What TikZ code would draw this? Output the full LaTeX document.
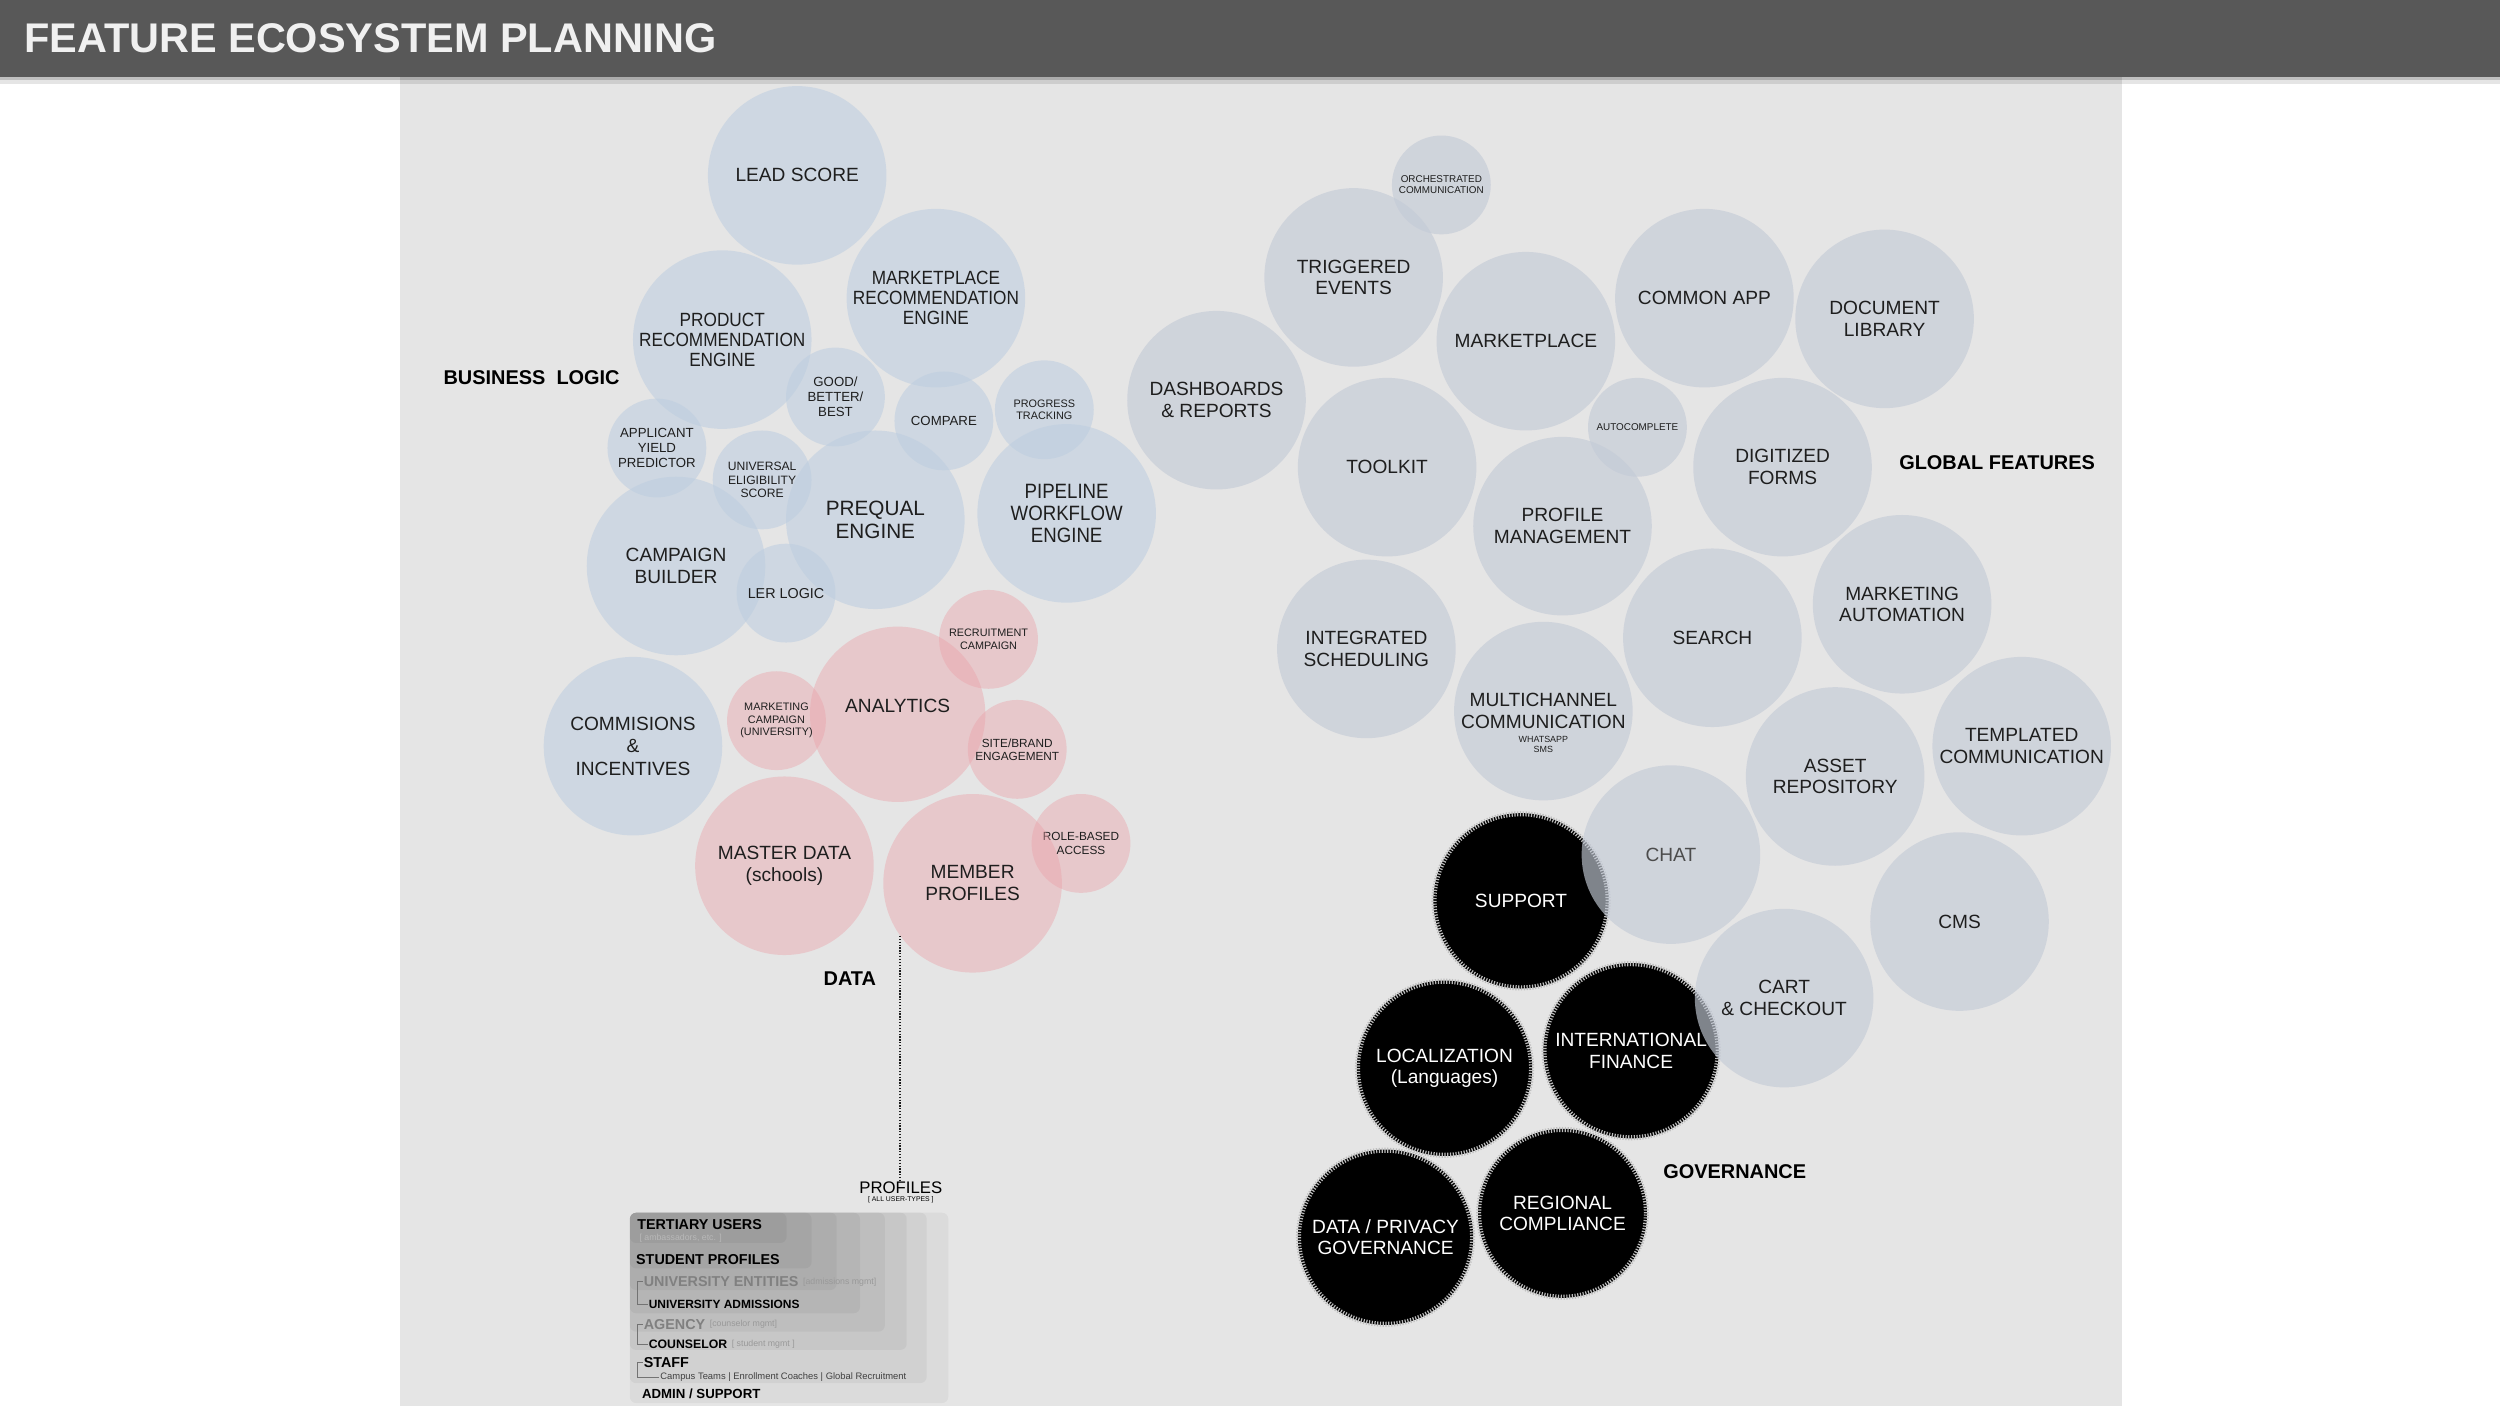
\documentclass[tikz,border=0pt]{standalone}
\usepackage{fontspec}
\setmainfont{Liberation Sans}
\newfontfamily\narrowfont[FakeStretch=0.9]{Liberation Sans}
\usetikzlibrary{positioning}

\definecolor{barGrey}{RGB}{88,88,88}
\definecolor{panelGrey}{RGB}{229,229,229}
\definecolor{logicBlue}{RGB}{188,205,224}
\definecolor{featGrey}{RGB}{196,203,215}
\definecolor{dataRed}{RGB}{235,160,168}
\definecolor{tickGrey}{RGB}{190,190,190}
\definecolor{inkGrey}{RGB}{30,30,30}

\tikzset{
  bubble/.style={circle, inner sep=0pt, align=center, text=inkGrey, text opacity=1},
  bigtxt/.style={minimum size=112pt, font=\fontsize{12}{13.6}\selectfont},
  smalltxt/.style={minimum size=62pt, font=\fontsize{8.3}{9.4}\selectfont},
  tinytxt/.style={minimum size=62pt, font=\fontsize{6.8}{7.8}\selectfont},
  logic/.style={bubble, fill=logicBlue, fill opacity=0.55},
  feature/.style={bubble, fill=featGrey, fill opacity=0.65},
  datum/.style={bubble, fill=dataRed, fill opacity=0.42},
  govern/.style={bubble, fill=black, text=white, minimum size=110pt,
    font=\fontsize{12}{13.6}\selectfont},
  gear/.style={tickGrey, line width=3.2pt, dash pattern=on 0.75pt off 1pt},
  header/.style={font=\bfseries\fontsize{12.5}{12.5}\selectfont, inner sep=0pt, anchor=west},
  usertype/.style={font=\bfseries\fontsize{9}{9}\selectfont, inner sep=0.5pt, anchor=west},
  usernote/.style={font=\fontsize{5.5}{5.5}\selectfont, text=black!40, inner sep=0.5pt}
}

\begin{document}
\begin{tikzpicture}[x=1pt, y=-1pt]
    \useasboundingbox (0,0) rectangle (1568,882);

    % title bar and panel
    \fill[white] (0,0) rectangle (1568,882);
    \fill[panelGrey] (251,48) rectangle (1331,882);
    \fill[black, opacity=0.25] (0,48) rectangle (1568,50);
    \fill[black, opacity=0.1] (0,50) rectangle (1568,53);
    \fill[barGrey] (0,0) rectangle (1568,48);
    \node[anchor=west, inner sep=0pt, text=white!94!black, font=\bfseries\fontsize{26}{26}\selectfont] (title) at (15,24) {FEATURE ECOSYSTEM PLANNING};

    % governance
    \node[govern] (support) at (954,565) {SUPPORT};
    \node[govern] (local) at (906,670) {LOCALIZATION\\(Languages)};
    \node[govern] (intfin) at (1023,659) {INTERNATIONAL\\FINANCE};
    \node[govern] (privacy) at (869,776) {DATA / PRIVACY\\GOVERNANCE};
    \node[govern, minimum size=106pt] (regional) at (980,761) {REGIONAL\\COMPLIANCE};
    \foreach \n/\r in {support/54.6, local/54.6, intfin/54.6, privacy/54.6, regional/52.6}
        \draw[gear] (\n.center) circle (\r pt);

    % business logic
    \node[logic, bigtxt] (lead) at (500,110) {LEAD SCORE};
    \node[logic, bigtxt, font=\narrowfont\fontsize{12}{12.6}\selectfont] (mktrec) at (587,187) {MARKETPLACE\\RECOMMENDATION\\ENGINE};
    \node[logic, bigtxt, font=\narrowfont\fontsize{12}{12.6}\selectfont] (prodrec) at (453,213) {PRODUCT\\RECOMMENDATION\\ENGINE};
    \node[logic, smalltxt] (gbb) at (524,249) {GOOD/\\BETTER/\\BEST};
    \node[logic, smalltxt] (compare) at (592,264) {COMPARE};
    \node[logic, tinytxt] (progress) at (655,257) {PROGRESS\\TRACKING};
    \node[logic, smalltxt] (yield) at (412,281) {APPLICANT\\YIELD\\PREDICTOR};
    \node[logic, tinytxt, font=\fontsize{7.6}{8.6}\selectfont] (elig) at (478,301) {UNIVERSAL\\ELIGIBILITY\\SCORE};
    \node[logic, bigtxt, font=\fontsize{13}{14}\selectfont] (prequal) at (549,326) {PREQUAL\\ENGINE};
    \node[logic, bigtxt, font=\narrowfont\fontsize{13}{14}\selectfont] (pipeline) at (669,322) {PIPELINE\\WORKFLOW\\ENGINE};
    \node[logic, bigtxt] (campaign) at (424,355) {CAMPAIGN\\BUILDER};
    \node[logic, smalltxt, font=\fontsize{9}{9}\selectfont] (ler) at (493,372) {LER LOGIC};
    \node[logic, bigtxt, font=\fontsize{12}{14}\selectfont] (commis) at (397,468) {COMMISIONS\\\&\\INCENTIVES};

    % data
    \node[datum, tinytxt] (recruit) at (620,401) {RECRUITMENT\\CAMPAIGN};
    \node[datum, bigtxt, minimum size=110pt, text depth=10pt] (analytics) at (563,448) {ANALYTICS};
    \node[datum, tinytxt] (mktcamp) at (487,452) {MARKETING\\CAMPAIGN\\(UNIVERSITY)};
    \node[datum, tinytxt, font=\fontsize{7.4}{8.2}\selectfont] (site) at (638,470) {SITE/BRAND\\ENGAGEMENT};
    \node[datum, tinytxt, font=\fontsize{7.4}{8.2}\selectfont] (role) at (678,529) {ROLE-BASED\\ACCESS};
    \node[datum, bigtxt] (master) at (492,543) {MASTER DATA\\(schools)};
    \node[datum, bigtxt] (member) at (610,554) {MEMBER\\PROFILES};

    % global features
    \node[feature, tinytxt, font=\fontsize{6.2}{7}\selectfont] (orch) at (904,116) {ORCHESTRATED\\COMMUNICATION};
    \node[feature, bigtxt] (trig) at (849,174) {TRIGGERED\\EVENTS};
    \node[feature, bigtxt] (mkt) at (957,214) {MARKETPLACE};
    \node[feature, bigtxt] (common) at (1069,187) {COMMON APP};
    \node[feature, bigtxt] (doclib) at (1182,200) {DOCUMENT\\LIBRARY};
    \node[feature, bigtxt] (dash) at (763,251) {DASHBOARDS\\\& REPORTS};
    \node[feature, bigtxt] (toolkit) at (870,293) {TOOLKIT};
    \node[feature, tinytxt, font=\fontsize{6.2}{7}\selectfont] (auto) at (1027,268) {AUTOCOMPLETE};
    \node[feature, bigtxt] (digit) at (1118,293) {DIGITIZED\\FORMS};
    \node[feature, bigtxt] (profman) at (980,330) {PROFILE\\MANAGEMENT};
    \node[feature, bigtxt] (integ) at (857,407) {INTEGRATED\\SCHEDULING};
    \node[feature, bigtxt] (multi) at (968,446) {MULTICHANNEL\\COMMUNICATION};
    \node[font=\fontsize{5.6}{6.2}\selectfont, align=center, inner sep=0pt, text=inkGrey] (multisub) at (968,467) {WHATSAPP\\SMS};
    \node[feature, bigtxt] (search) at (1074,400) {SEARCH};
    \node[feature, bigtxt] (mktauto) at (1193,379) {MARKETING\\AUTOMATION};
    \node[feature, bigtxt] (asset) at (1151,487) {ASSET\\REPOSITORY};
    \node[feature, bigtxt] (templ) at (1268,468) {TEMPLATED\\COMMUNICATION};
    \node[feature, bigtxt, text=black!70] (chat) at (1048,536) {CHAT};
    \node[feature, bigtxt] (cms) at (1229,578) {CMS};
    \node[feature, bigtxt] (cart) at (1119,626) {CART\\\& CHECKOUT};

    % group labels
    \node[header] (logiclbl) at (278,237) {BUSINESS\ \ LOGIC};
    \node[header, anchor=center] (datalbl) at (533,614) {DATA};
    \node[header] (globallbl) at (1191,290) {GLOBAL FEATURES};
    \node[header] (govlbl) at (1043,735) {GOVERNANCE};

    % profiles
    \node[font=\fontsize{10.5}{10.5}\selectfont, inner sep=0.5pt] (prof) at (565,745) {PROFILES};
    \node[font=\fontsize{4.3}{4.3}\selectfont, inner sep=0pt, below=1pt of prof] (alltypes) {[ ALL USER-TYPES ]};
    \draw[densely dotted, inkGrey, line width=0.8pt] (member.216) -- (member.216 |- prof.north);

    \foreach \r/\b in {594.8/880, 581.2/867.5, 568.7/846.7, 555/835.2, 539.4/823.7, 524.8/809.1, 509/795.5, 493.4/779.6}
        \fill[black, fill opacity=0.045, rounded corners=4pt] (395,760.6) rectangle (\r,\b);

    \node[usertype] (tert) at (399,768.3) {TERTIARY USERS};
    \node[usernote, anchor=west, text=black!28] (amb) at (400.4,776.7) {[ ambassadors, etc. ]};
    \node[usertype] (stud) at (398.3,789.9) {STUDENT PROFILES};
    \node[usertype, text=black!50] (unient) at (403.1,803.9) {UNIVERSITY ENTITIES};
    \node[usernote, right=1.5pt of unient] (unientnote) {[admissions mgmt]};
    \node[usertype, font=\bfseries\fontsize{7.5}{7.5}\selectfont] (uniadm) at (406.2,817.9) {UNIVERSITY ADMISSIONS};
    \node[usertype, text=black!50] (agency) at (403.1,830.6) {AGENCY};
    \node[usernote, right=1.5pt of agency] (agencynote) {[counselor mgmt]};
    \node[usertype, font=\bfseries\fontsize{7.7}{7.7}\selectfont] (couns) at (406.2,843.2) {COUNSELOR};
    \node[usernote, right=1.5pt of couns] (counsnote) {[ student mgmt ]};
    \node[usertype] (staff) at (403.1,854.3) {STAFF};
    \node[usertype, font=\fontsize{5.9}{5.9}\selectfont, text=black!75] (teams) at (413.5,863.9) {Campus Teams | Enrollment Coaches | Global Recruitment};
    \node[usertype, font=\bfseries\fontsize{8.3}{8.3}\selectfont] (admin) at (402,874.3) {ADMIN / SUPPORT};

    \draw[black!55, line width=0.5pt] (unient.west) -- ++(-3.5,0) |- (uniadm.west);
    \draw[black!55, line width=0.5pt] (agency.west) -- ++(-3.5,0) |- (couns.west);
    \draw[black!55, line width=0.5pt] (staff.west) -- ++(-3.5,0) |- (teams.west);
\end{tikzpicture}
\end{document}
